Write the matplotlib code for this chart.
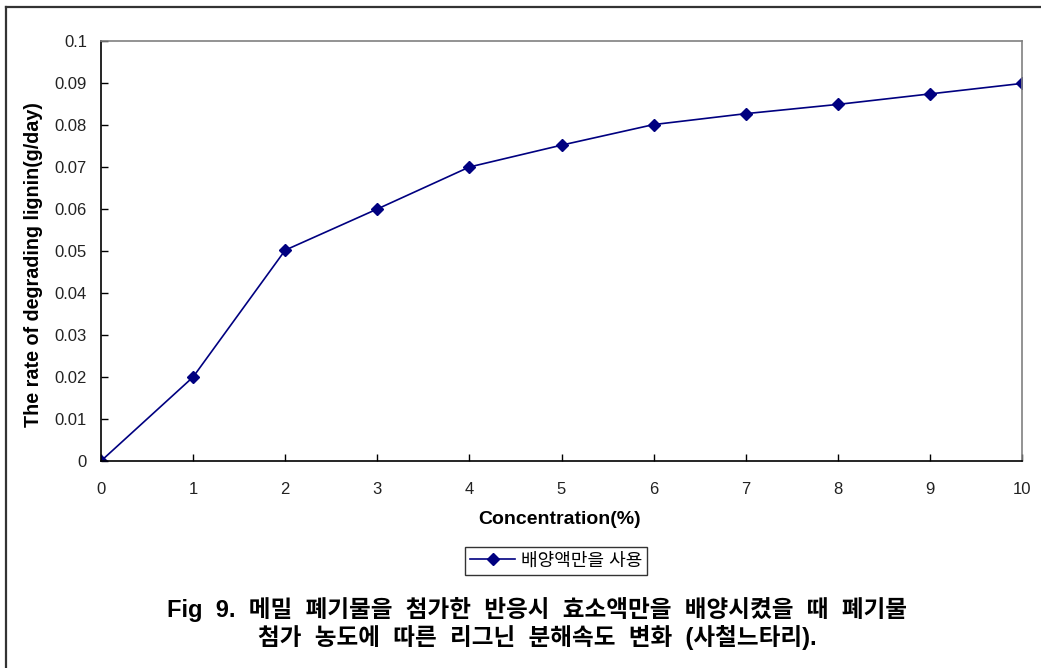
import matplotlib
matplotlib.use("Agg")
import matplotlib.pyplot as plt
from matplotlib.lines import Line2D

plt.rcParams['font.family'] = ['Liberation Sans', 'Noto Sans CJK KR']

# Lignin degradation rate vs. waste concentration
concentration = [0, 1, 2, 3, 4, 5, 6, 7, 8, 9, 10]
rate = [0.0, 0.020, 0.0502, 0.060, 0.070, 0.0752, 0.0801, 0.0827, 0.0849, 0.0874, 0.0899]
y_ticks = [0, 0.01, 0.02, 0.03, 0.04, 0.05, 0.06, 0.07, 0.08, 0.09, 0.1]
y_tick_labels = ['0', '0.01', '0.02', '0.03', '0.04', '0.05', '0.06', '0.07', '0.08', '0.09', '0.1']
series_label = '배양액만을 사용'
x_label = 'Concentration(%)'
y_label = 'The rate of degrading lignin(g/day)'
caption_lines = ['Fig 9. 메밀 폐기물을 첨가한 반응시 효소액만을 배양시켰을 때 폐기물',
                 '첨가 농도에 따른 리그닌 분해속도 변화 (사철느타리).']

W, H = 1041, 668
fig = plt.figure(figsize=(W / 100, H / 100), dpi=100)
ax = fig.add_axes([101 / W, 1 - 461 / H, (1022 - 101) / W, (461 - 41) / H])

ax.plot(concentration, rate, color='#000080', lw=1.2, marker='D',
        markersize=6.5, markerfacecolor='#000080', markeredgecolor='#000080',
        label=series_label)

ax.set_xlim(0, 10)
ax.set_ylim(0, 0.1)
ax.set_xticks(concentration)
ax.set_xticklabels([str(c) for c in concentration])
ax.set_yticks(y_ticks)
ax.set_yticklabels(y_tick_labels)

ax.tick_params(axis='y', direction='in', length=5, width=1, pad=10,
               labelsize=12, colors='black', labelcolor='#222222')
ax.tick_params(axis='x', direction='in', length=5, width=1, pad=15,
               labelsize=12, colors='black', labelcolor='#222222')

for side in ('top', 'right'):
    ax.spines[side].set_color('#808080')
    ax.spines[side].set_linewidth(1.2)
for side in ('left', 'bottom'):
    ax.spines[side].set_color('black')
    ax.spines[side].set_linewidth(1.2)

ax.set_xlabel(x_label, fontsize=14, fontweight='bold', va='center')
ax.xaxis.set_label_coords((560 - 101) / 921, -(520 - 461) / 420)
ax.set_ylabel(y_label, fontsize=14.2, fontweight='bold', va='center')
ax.yaxis.set_label_coords((34 - 101) / 921, (461 - 265) / 420)

leg = fig.legend(loc='center', bbox_to_anchor=(556 / W, 1 - 561 / H),
                 frameon=True, fancybox=False, fontsize=13,
                 handlelength=2.5, borderpad=0.3, handletextpad=0.3,
                 borderaxespad=0)
leg.get_frame().set_edgecolor('black')
leg.get_frame().set_linewidth(1.0)

# Caption with generous word spacing
caption = '\n'.join(line.replace(' ', '  ') for line in caption_lines)
fig.text(537 / W, 1 - 623 / H, caption, ha='center', va='center',
         fontsize=17, fontweight='bold', linespacing=1.15)

# Outer frame (left and top edges)
fig.add_artist(Line2D([6 / W, 6 / W], [0, 1 - 7 / H], transform=fig.transFigure,
                      color='#333333', lw=1.6))
fig.add_artist(Line2D([6 / W, 1], [1 - 7 / H, 1 - 7 / H], transform=fig.transFigure,
                      color='#333333', lw=1.6))

fig.savefig('out.png', dpi=100, facecolor='white')
